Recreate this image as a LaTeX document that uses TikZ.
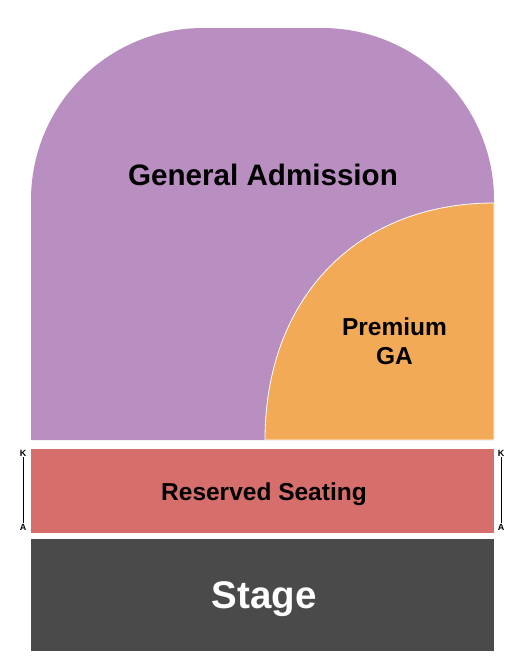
\documentclass[tikz,border=0pt]{standalone}
\usepackage{fontspec}
\setmainfont{Liberation Sans}
\definecolor{gapurple}{RGB}{185,143,194}
\definecolor{premorange}{RGB}{242,170,87}
\definecolor{resred}{RGB}{214,110,108}
\definecolor{stagegray}{RGB}{74,74,74}
\tikzset{
  zonelabel/.style={inner sep=0pt, anchor=base, font=\bfseries, align=center},
  rowlabel/.style={inner sep=1pt, font=\bfseries\fontsize{9}{10}\selectfont},
}
\begin{document}
\begin{tikzpicture}[x=1pt, y=-1pt]
 \useasboundingbox (0,0) rectangle (525,670);

 %general admission
 \fill[gapurple] (31,440) [rounded corners=172pt] -- (31,28) -- (494,28) [sharp corners] -- (494,440) -- cycle;
 \node[zonelabel, font=\bfseries\fontsize{29.6}{32}\selectfont] (ga) at (263,185) {General Admission};

 %premium ga
 \filldraw[fill=premorange, draw=white, line width=0.8pt]
   (265,440) .. controls (265,298) and (357,203) .. (494,203) -- (494,440) -- cycle;
 \node[zonelabel, font=\bfseries\fontsize{24.5}{29}\selectfont] (pga) at (394.5,364) {Premium\\GA};

 %reserved seating
 \fill[resred] (31,449) rectangle (494,533);
 \node[zonelabel, font=\bfseries\fontsize{24.5}{28}\selectfont] (res) at (264,500) {Reserved Seating};

 %stage
 \fill[stagegray] (31,539) rectangle (494,651);
 \node[zonelabel, white, font=\bfseries\fontsize{38.5}{40}\selectfont] (stage) at (264,608) {Stage};

 %rows
 \foreach \x/\side in {23/l, 501/r} {
   \node[rowlabel] (k\side) at (\x,453) {K};
   \node[rowlabel] (a\side) at (\x,527) {A};
   \draw[line width=0.8pt] (k\side) -- (a\side);
 }

\end{tikzpicture}
\end{document}
